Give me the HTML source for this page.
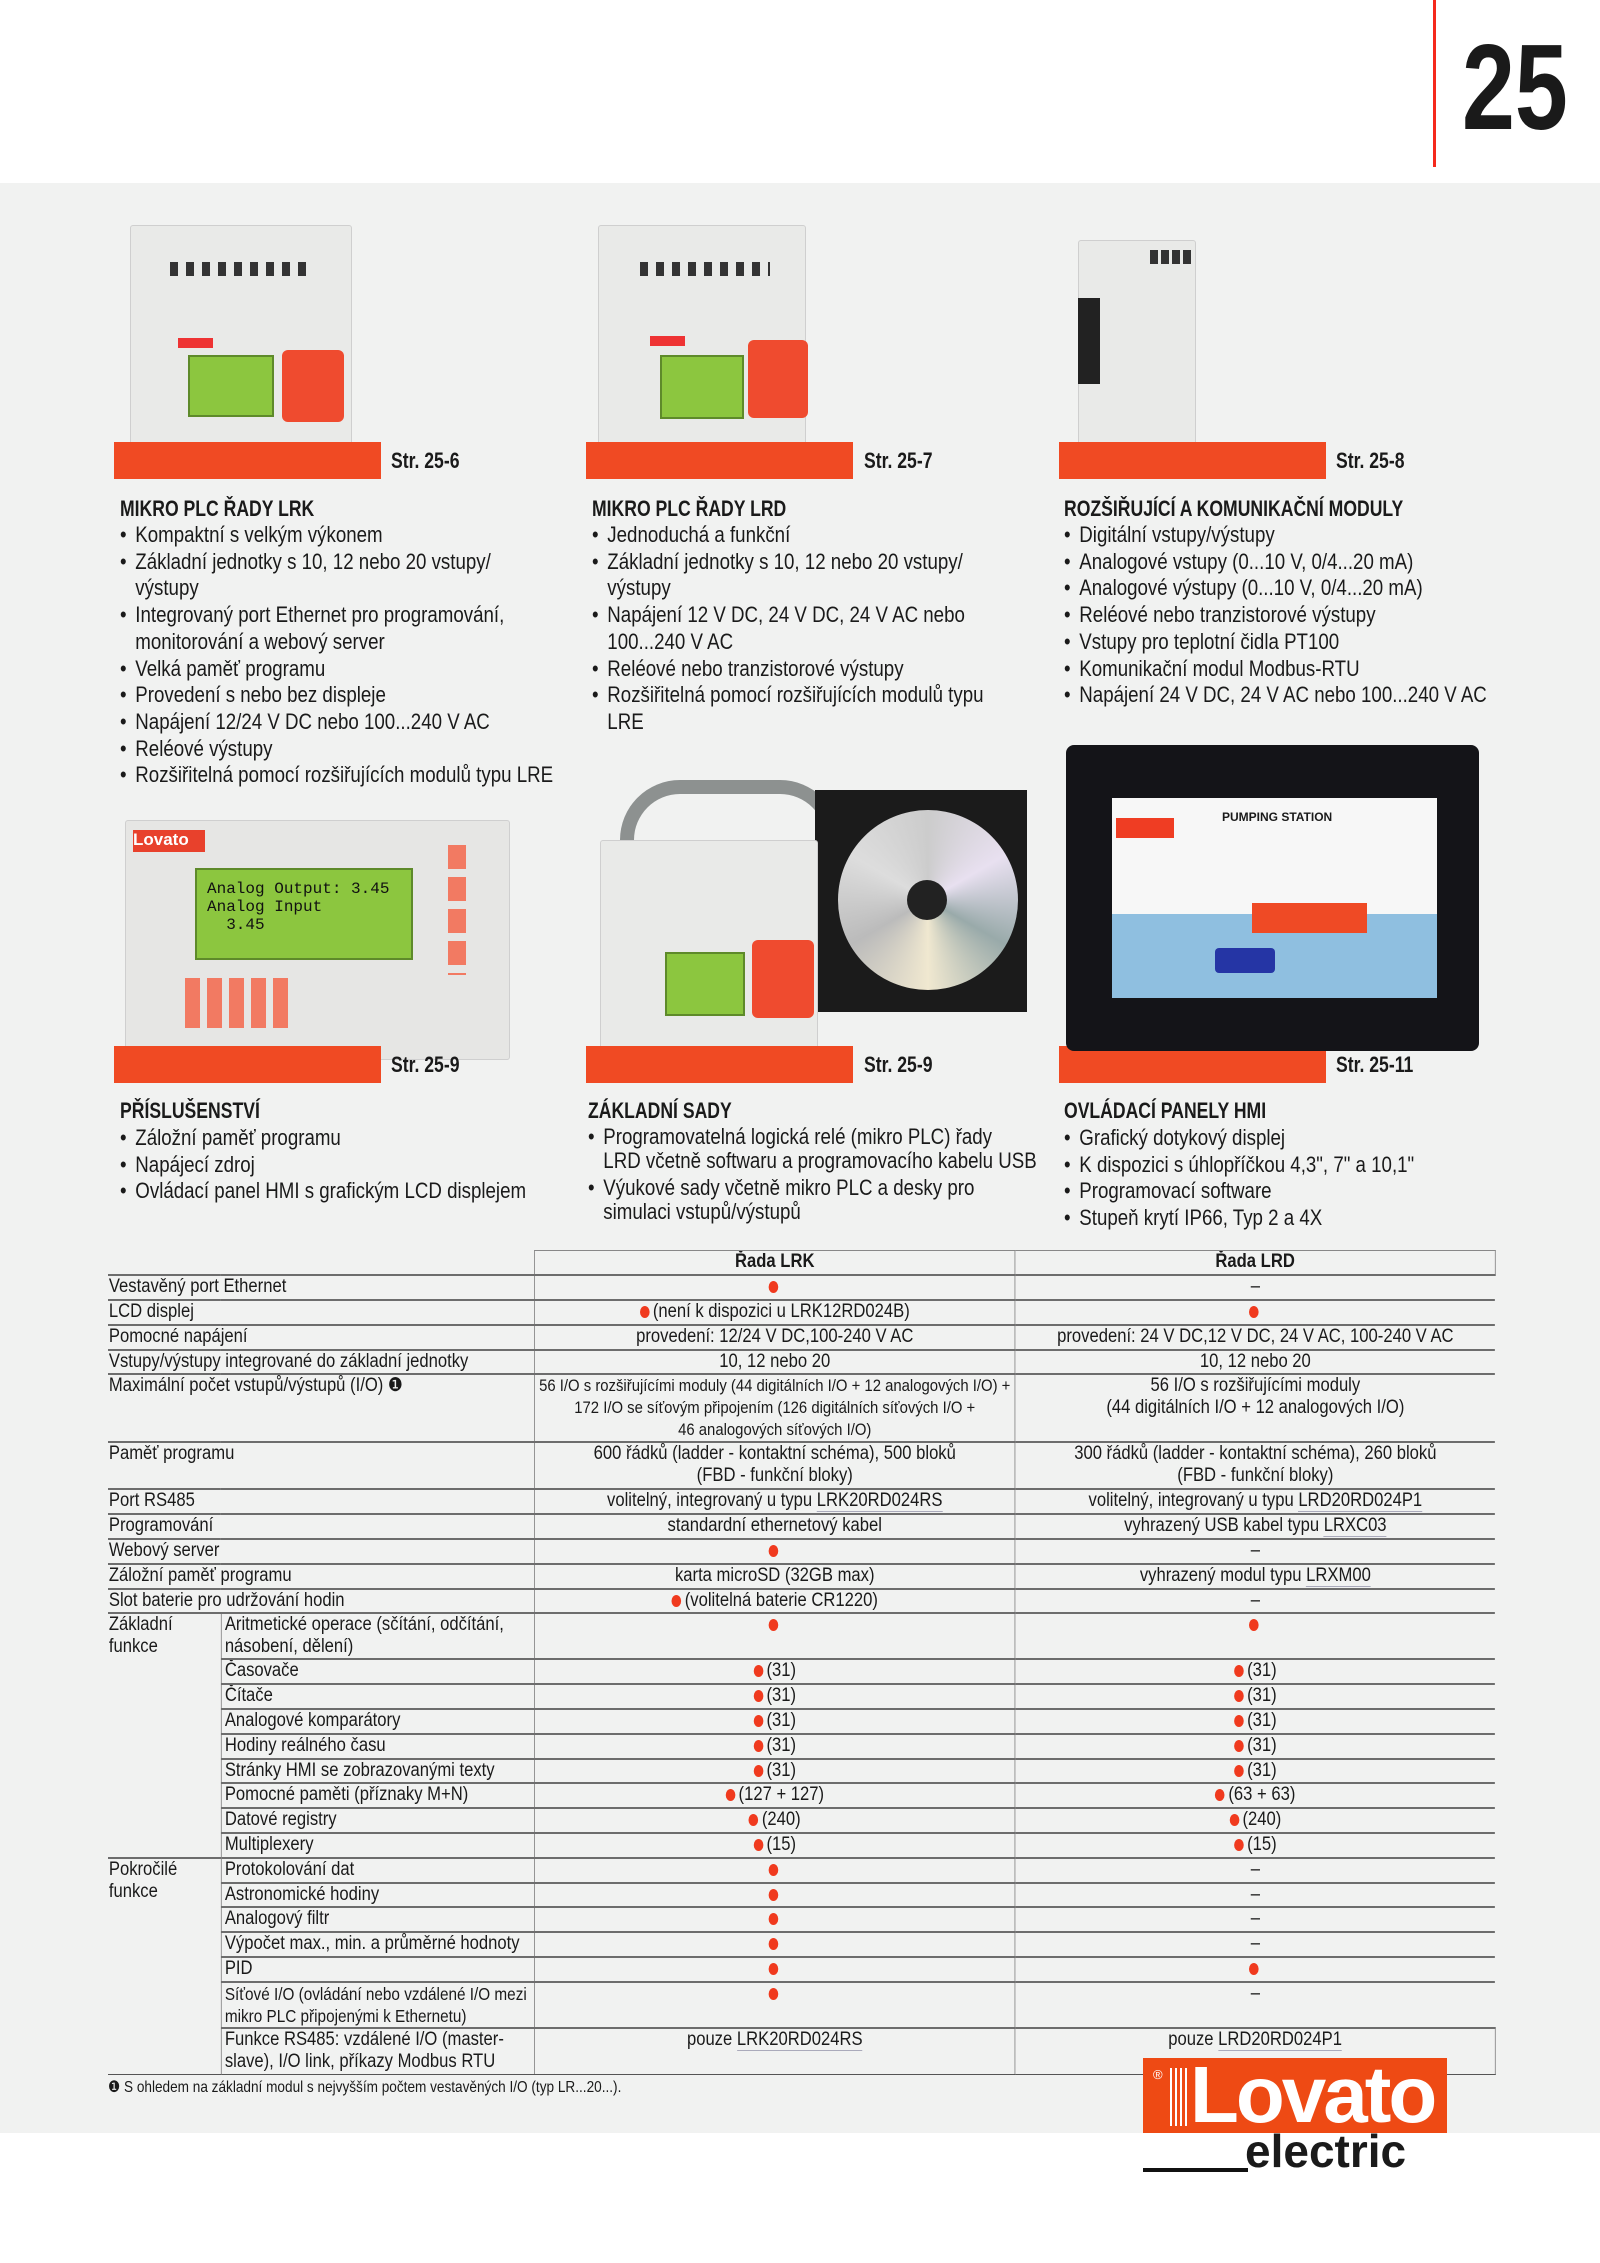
<!DOCTYPE html>
<html><head><meta charset="utf-8">
<style>
*{margin:0;padding:0;box-sizing:border-box}
body{width:1600px;height:2263px;position:relative;background:#fff;font-family:"Liberation Sans",sans-serif;color:#1a1a1a;overflow:hidden}
.a{position:absolute}
.gray{left:0;top:183px;width:1600px;height:1950px;background:#f1f2f1}
.bar{position:absolute;height:37px;width:267px;background:#f04a23}
.str{position:absolute;font-weight:bold;font-size:22px;transform:scaleX(.8);transform-origin:left;z-index:3}
.tt{position:absolute;font-weight:bold;font-size:22px;transform:scaleX(.8);transform-origin:left;white-space:nowrap}
ul{position:absolute;list-style:none;font-size:22px;line-height:26.7px;transform:scaleX(.85);transform-origin:left top;white-space:nowrap}
ul li{padding-left:18px;position:relative}
ul li:before{content:"•";position:absolute;left:0}
.dev{position:absolute;background:#e9eae8;border:1px solid #cfcfcf;border-radius:3px}
.lcd{position:absolute;background:#8cc63f;border:2px solid #5e8a2a}
.kp{position:absolute;background:#ef4b2f;border-radius:6px}
table{position:absolute;left:108px;top:1250px;width:1585px;border-collapse:collapse;font-size:19px;line-height:22px;table-layout:fixed;transform:scaleX(.875);transform-origin:left top}
td{border-bottom:2px solid #6d6d6d;padding:0 0 0 1px;vertical-align:top;height:24.8px;overflow:hidden;white-space:nowrap}
td.c{text-align:center;border-left:1px solid #888}
td.s{border-left:1px solid #888;padding-left:4px}
.d{display:inline-block;width:11px;height:12px;border-radius:50%;background:#f03a1e;vertical-align:-1px;margin-right:4px}
.u{border-bottom:1px solid #aab}
</style></head><body>
<div class="a" style="left:1433px;top:0;width:3px;height:167px;background:#f5291c"></div>
<div class="a" style="left:1462px;top:22px;font-size:122px;font-weight:bold;line-height:130px;transform:scaleX(.78);transform-origin:left">25</div>
<div class="a gray"></div>

<div class="dev" style="left:130px;top:225px;width:222px;height:250px"></div>
<div class="a" style="left:170px;top:262px;width:140px;height:14px;background:repeating-linear-gradient(90deg,#333 0 8px,transparent 8px 16px)"></div>
<div class="lcd" style="left:188px;top:355px;width:86px;height:62px"></div>
<div class="kp" style="left:282px;top:350px;width:62px;height:72px"></div>
<div class="a" style="left:178px;top:338px;width:35px;height:10px;background:#e33"></div>

<div class="dev" style="left:598px;top:225px;width:208px;height:250px"></div>
<div class="a" style="left:640px;top:262px;width:130px;height:14px;background:repeating-linear-gradient(90deg,#333 0 8px,transparent 8px 16px)"></div>
<div class="lcd" style="left:660px;top:355px;width:84px;height:64px"></div>
<div class="kp" style="left:748px;top:340px;width:60px;height:78px"></div>
<div class="a" style="left:650px;top:336px;width:35px;height:10px;background:#e33"></div>

<div class="dev" style="left:1078px;top:240px;width:118px;height:232px"></div>
<div class="a" style="left:1078px;top:298px;width:22px;height:86px;background:#222"></div>
<div class="a" style="left:1150px;top:250px;width:44px;height:14px;background:repeating-linear-gradient(90deg,#333 0 8px,transparent 8px 11px)"></div>

<div class="bar" style="left:114px;top:442px"></div><div class="str" style="left:391px;top:448px">Str. 25-6</div>
<div class="bar" style="left:586px;top:442px"></div><div class="str" style="left:864px;top:448px">Str. 25-7</div>
<div class="bar" style="left:1059px;top:442px"></div><div class="str" style="left:1336px;top:448px">Str. 25-8</div>

<div class="tt" style="left:120px;top:496px">MIKRO PLC ŘADY LRK</div>
<ul style="left:120px;top:522px"><li>Kompaktní s velkým výkonem</li><li>Základní jednotky s 10, 12 nebo 20 vstupy/<br>výstupy</li><li>Integrovaný port Ethernet pro programování,<br>monitorování a webový server</li><li>Velká paměť programu</li><li>Provedení s nebo bez displeje</li><li>Napájení 12/24 V DC nebo 100...240 V AC</li><li>Reléové výstupy</li><li>Rozšiřitelná pomocí rozšiřujících modulů typu LRE</li></ul>
<div class="tt" style="left:592px;top:496px">MIKRO PLC ŘADY LRD</div>
<ul style="left:592px;top:522px"><li>Jednoduchá a funkční</li><li>Základní jednotky s 10, 12 nebo 20 vstupy/<br>výstupy</li><li>Napájení 12 V DC, 24 V DC, 24 V AC nebo<br>100...240 V AC</li><li>Reléové nebo tranzistorové výstupy</li><li>Rozšiřitelná pomocí rozšiřujících modulů typu<br>LRE</li></ul>
<div class="tt" style="left:1064px;top:496px">ROZŠIŘUJÍCÍ A KOMUNIKAČNÍ MODULY</div>
<ul style="left:1064px;top:522px"><li>Digitální vstupy/výstupy</li><li>Analogové vstupy (0...10 V, 0/4...20 mA)</li><li>Analogové výstupy (0...10 V, 0/4...20 mA)</li><li>Reléové nebo tranzistorové výstupy</li><li>Vstupy pro teplotní čidla PT100</li><li>Komunikační modul Modbus-RTU</li><li>Napájení 24 V DC, 24 V AC nebo 100...240 V AC</li></ul>

<div class="dev" style="left:125px;top:820px;width:385px;height:240px;background:#e6e6e4"></div>
<div class="a" style="left:133px;top:830px;width:72px;height:22px;background:#e8412c;color:#fff;font-weight:bold;font-size:17px">Lovato</div>
<div class="lcd" style="left:195px;top:868px;width:218px;height:92px;font-family:'Liberation Mono',monospace;font-size:16px;padding:10px;color:#111">Analog Output: 3.45<br>Analog Input<br>&nbsp;&nbsp;3.45</div>
<div class="a" style="left:185px;top:978px;width:110px;height:50px;background:repeating-linear-gradient(90deg,#f27a62 0 15px,transparent 15px 22px)"></div>
<div class="a" style="left:448px;top:845px;width:18px;height:130px;background:repeating-linear-gradient(180deg,#f27a62 0 24px,transparent 24px 32px)"></div>

<div class="a" style="left:620px;top:780px;width:220px;height:80px;border:14px solid #8d9190;border-bottom:none;border-radius:60px 60px 0 0"></div>
<div class="a" style="left:815px;top:790px;width:212px;height:222px;background:#1b1b1b"></div>
<div class="a" style="left:838px;top:810px;width:180px;height:180px;border-radius:50%;background:conic-gradient(#ccc,#e8e0f0,#9aa,#f0e8d0,#bbb,#ddd,#ccc)"></div>
<div class="a" style="left:907px;top:880px;width:40px;height:40px;border-radius:50%;background:#222"></div>
<div class="dev" style="left:600px;top:840px;width:218px;height:220px"></div>
<div class="lcd" style="left:665px;top:952px;width:80px;height:64px"></div>
<div class="kp" style="left:752px;top:940px;width:62px;height:78px"></div>

<div class="bar" style="left:114px;top:1046px"></div><div class="str" style="left:391px;top:1052px">Str. 25-9</div>
<div class="bar" style="left:586px;top:1046px"></div><div class="str" style="left:864px;top:1052px">Str. 25-9</div>
<div class="bar" style="left:1059px;top:1046px"></div>

<div class="a" style="left:1066px;top:745px;width:413px;height:306px;background:#141418;border-radius:8px"></div>
<div class="a" style="left:1112px;top:798px;width:325px;height:200px;background:linear-gradient(180deg,#f7f7f7 0 58%,#8fbfe0 58%)"></div>
<div class="a" style="left:1116px;top:818px;width:58px;height:20px;background:#ef3d23"></div>
<div class="a" style="left:1222px;top:810px;font-weight:bold;font-size:12px">PUMPING STATION</div>
<div class="a" style="left:1252px;top:903px;width:115px;height:30px;background:#ef4a25"></div>
<div class="a" style="left:1215px;top:948px;width:60px;height:25px;background:#2535a5;border-radius:4px"></div>
<div class="str" style="left:1336px;top:1052px">Str. 25-11</div>

<div class="tt" style="left:120px;top:1098px">PŘÍSLUŠENSTVÍ</div>
<ul style="left:120px;top:1125px"><li>Záložní paměť programu</li><li>Napájecí zdroj</li><li>Ovládací panel HMI s grafickým LCD displejem</li></ul>
<div class="tt" style="left:588px;top:1098px">ZÁKLADNÍ SADY</div>
<ul style="left:588px;top:1125px;line-height:24px"><li>Programovatelná logická relé (mikro PLC) řady<br>LRD včetně softwaru a programovacího kabelu USB</li><li style="margin-top:3px">Výukové sady včetně mikro PLC a desky pro<br>simulaci vstupů/výstupů</li></ul>
<div class="tt" style="left:1064px;top:1098px">OVLÁDACÍ PANELY HMI</div>
<ul style="left:1064px;top:1125px"><li>Grafický dotykový displej</li><li>K dispozici s úhlopříčkou 4,3", 7" a 10,1"</li><li>Programovací software</li><li>Stupeň krytí IP66, Typ 2 a 4X</li></ul>

<table>
<colgroup><col style="width:129px"><col style="width:358px"><col style="width:549px"><col style="width:549px"></colgroup>
<tr><td style="border-bottom:2px solid #6d6d6d"></td><td style="border-bottom:2px solid #6d6d6d"></td><td class="c" style="font-weight:bold;border-top:1px solid #888">Řada LRK</td><td class="c" style="font-weight:bold;border-top:1px solid #888;border-right:1px solid #888">Řada LRD</td></tr>
<tr><td colspan="2">Vestavěný port Ethernet</td><td class="c"><span class="d"></span></td><td class="c">–</td></tr>
<tr><td colspan="2">LCD displej</td><td class="c"><span class="d"></span>(není k dispozici u LRK12RD024B)</td><td class="c"><span class="d"></span></td></tr>
<tr><td colspan="2">Pomocné napájení</td><td class="c">provedení: 12/24 V DC,100-240 V AC</td><td class="c">provedení: 24 V DC,12 V DC, 24 V AC, 100-240 V AC</td></tr>
<tr><td colspan="2">Vstupy/výstupy integrované do základní jednotky</td><td class="c">10, 12 nebo 20</td><td class="c">10, 12 nebo 20</td></tr>
<tr><td colspan="2" style="height:68px">Maximální počet vstupů/výstupů (I/O) ❶</td><td class="c" style="font-size:17px">56 I/O s rozšiřujícími moduly (44 digitálních I/O + 12 analogových I/O) +<br>172 I/O se síťovým připojením (126 digitálních síťových I/O +<br>46 analogových síťových I/O)</td><td class="c">56 I/O s rozšiřujícími moduly<br>(44 digitálních I/O + 12 analogových I/O)</td></tr>
<tr><td colspan="2" style="height:47px">Paměť programu</td><td class="c">600 řádků (ladder - kontaktní schéma), 500 bloků<br>(FBD - funkční bloky)</td><td class="c">300 řádků (ladder - kontaktní schéma), 260 bloků<br>(FBD - funkční bloky)</td></tr>
<tr><td colspan="2">Port RS485</td><td class="c">volitelný, integrovaný u typu <span class="u">LRK20RD024RS</span></td><td class="c">volitelný, integrovaný u typu <span class="u">LRD20RD024P1</span></td></tr>
<tr><td colspan="2">Programování</td><td class="c">standardní ethernetový kabel</td><td class="c">vyhrazený USB kabel typu <span class="u">LRXC03</span></td></tr>
<tr><td colspan="2">Webový server</td><td class="c"><span class="d"></span></td><td class="c">–</td></tr>
<tr><td colspan="2">Záložní paměť programu</td><td class="c">karta microSD (32GB max)</td><td class="c">vyhrazený modul typu <span class="u">LRXM00</span></td></tr>
<tr><td colspan="2">Slot baterie pro udržování hodin</td><td class="c"><span class="d"></span>(volitelná baterie CR1220)</td><td class="c">–</td></tr>
<tr><td rowspan="9">Základní<br>funkce</td><td class="s" style="height:45px">Aritmetické operace (sčítání, odčítání,<br>násobení, dělení)</td><td class="c"><span class="d"></span></td><td class="c"><span class="d"></span></td></tr>
<tr><td class="s">Časovače</td><td class="c"><span class="d"></span>(31)</td><td class="c"><span class="d"></span>(31)</td></tr>
<tr><td class="s">Čítače</td><td class="c"><span class="d"></span>(31)</td><td class="c"><span class="d"></span>(31)</td></tr>
<tr><td class="s">Analogové komparátory</td><td class="c"><span class="d"></span>(31)</td><td class="c"><span class="d"></span>(31)</td></tr>
<tr><td class="s">Hodiny reálného času</td><td class="c"><span class="d"></span>(31)</td><td class="c"><span class="d"></span>(31)</td></tr>
<tr><td class="s">Stránky HMI se zobrazovanými texty</td><td class="c"><span class="d"></span>(31)</td><td class="c"><span class="d"></span>(31)</td></tr>
<tr><td class="s">Pomocné paměti (příznaky M+N)</td><td class="c"><span class="d"></span>(127 + 127)</td><td class="c"><span class="d"></span>(63 + 63)</td></tr>
<tr><td class="s">Datové registry</td><td class="c"><span class="d"></span>(240)</td><td class="c"><span class="d"></span>(240)</td></tr>
<tr><td class="s">Multiplexery</td><td class="c"><span class="d"></span>(15)</td><td class="c"><span class="d"></span>(15)</td></tr>
<tr><td rowspan="7" style="border-bottom:1px solid #555">Pokročilé<br>funkce</td><td class="s">Protokolování dat</td><td class="c"><span class="d"></span></td><td class="c">–</td></tr>
<tr><td class="s">Astronomické hodiny</td><td class="c"><span class="d"></span></td><td class="c">–</td></tr>
<tr><td class="s">Analogový filtr</td><td class="c"><span class="d"></span></td><td class="c">–</td></tr>
<tr><td class="s">Výpočet max., min. a průměrné hodnoty</td><td class="c"><span class="d"></span></td><td class="c">–</td></tr>
<tr><td class="s">PID</td><td class="c"><span class="d"></span></td><td class="c"><span class="d"></span></td></tr>
<tr><td class="s" style="height:45px;font-size:17.5px">Síťové I/O (ovládání nebo vzdálené I/O mezi<br>mikro PLC připojenými k Ethernetu)</td><td class="c"><span class="d"></span></td><td class="c">–</td></tr>
<tr><td class="s" style="height:47px;border-bottom:1px solid #555">Funkce RS485: vzdálené I/O (master-<br>slave), I/O link, příkazy Modbus RTU</td><td class="c" style="border-bottom:1px solid #555">pouze <span class="u">LRK20RD024RS</span></td><td class="c" style="border-bottom:1px solid #555;border-right:1px solid #888">pouze <span class="u">LRD20RD024P1</span></td></tr>
</table>
<div class="a" style="left:108px;top:2077px;font-size:16px;transform:scaleX(.85);transform-origin:left;white-space:nowrap">❶ S ohledem na základní modul s nejvyšším počtem vestavěných I/O (typ LR...20...).</div>

<div class="a" style="left:1143px;top:2058px;width:304px;height:75px;background:#ee4a14"></div>
<div class="a" style="left:1153px;top:2067px;color:#fff;font-size:13px">®</div>
<div class="a" style="left:1170px;top:2068px;width:20px;height:58px;background:repeating-linear-gradient(90deg,#fff 0 2px,transparent 2px 5px)"></div>
<div class="a" style="left:1190px;top:2050px;color:#fff;font-weight:bold;font-size:80px;line-height:90px;letter-spacing:-3px">Lovato</div>
<div class="a" style="left:1143px;top:2168px;width:105px;height:4px;background:#111"></div>
<div class="a" style="left:1245px;top:2126px;font-weight:bold;font-size:46px;line-height:50px">electric</div>
</body></html>
